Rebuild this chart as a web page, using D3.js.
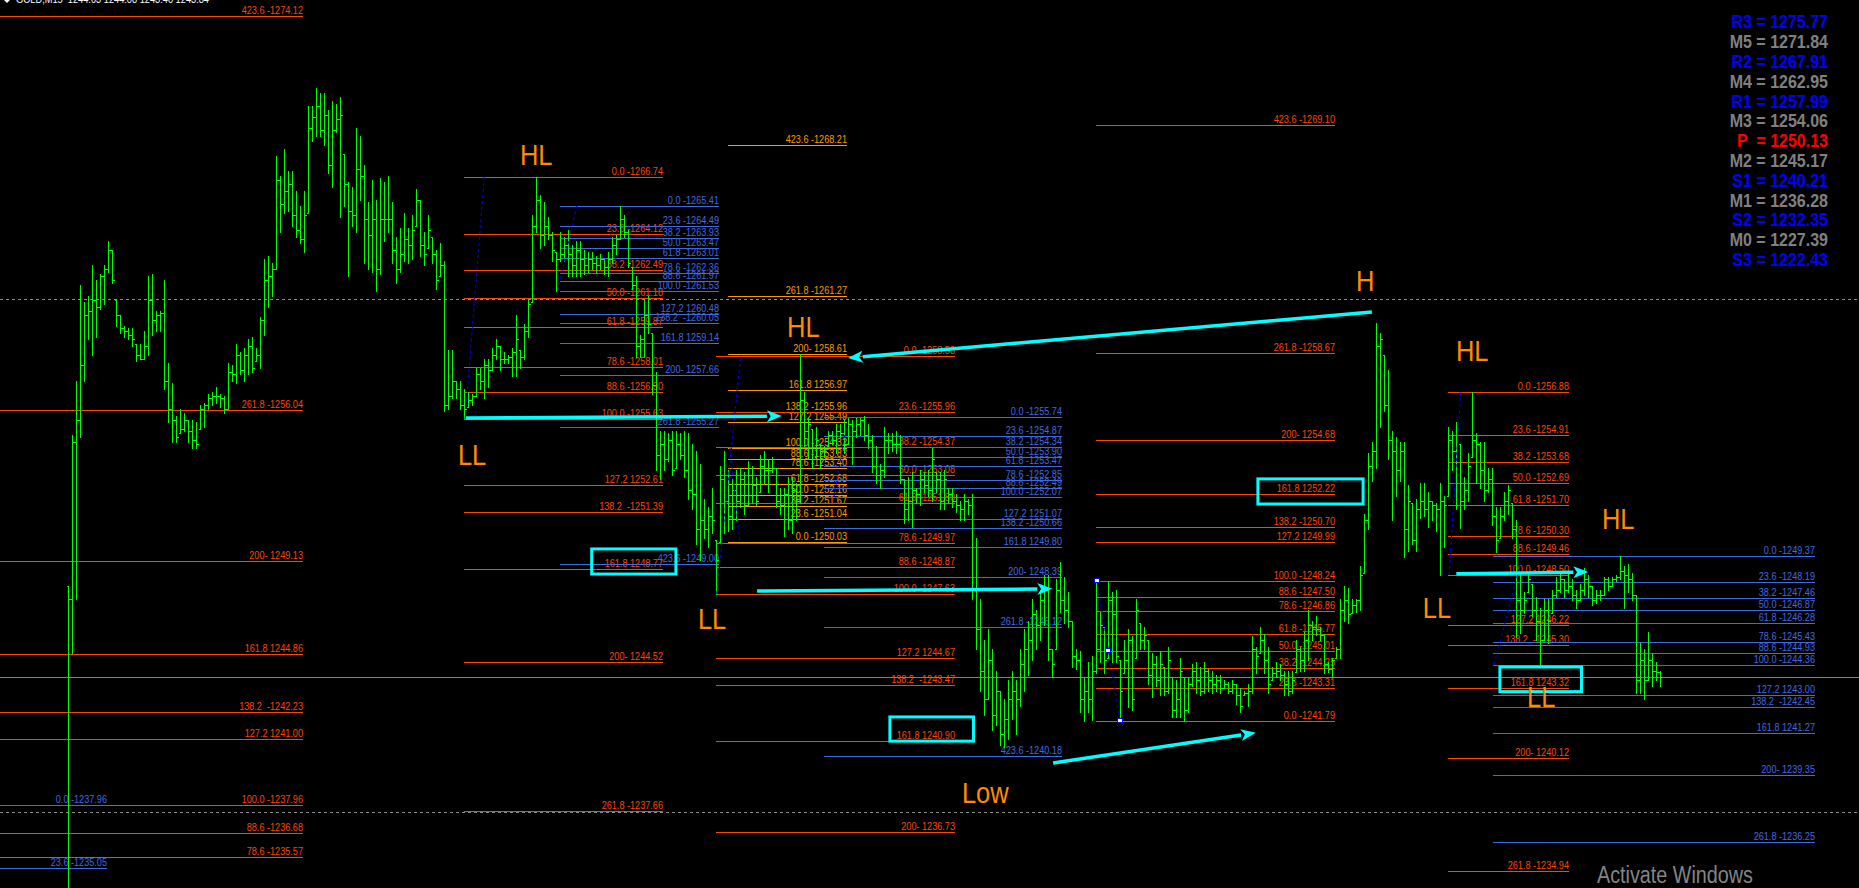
<!DOCTYPE html>
<html>
<head>
<meta charset="utf-8">
<title>GOLD,M15</title>
<script src="https://cdn.jsdelivr.net/npm/d3@7/dist/d3.min.js"></script>
<style>
html,body{margin:0;padding:0;background:#000;overflow:hidden;}
svg{display:block;}
text{white-space:pre;font-family:"Liberation Sans",Arial,sans-serif;}
</style>
</head>
<body>
<svg id="chart" width="1859" height="888"></svg>
<script>
// ---------------- data ----------------
const symbol = "GOLD,M15";
const lastOHLC = [1244.03, 1244.08, 1243.40, 1243.84];

// 15-minute OHLC bars (each bar opens at the prior close)
const barHigh = [
1248.0,1254.9,1257.4,1261.8,1261.0,1261.3,1262.7,1262.0,1262.3,1262.7,
1263.8,1263.4,1261.1,1260.4,1259.9,1259.8,1259.8,1259.1,1259.1,1259.7,
1262.2,1262.3,1260.6,1260.6,1262.0,1258.2,1257.3,1255.8,1256.1,1255.9,
1255.6,1255.6,1255.5,1256.3,1256.4,1256.8,1256.9,1257.1,1256.8,1256.7,
1258.2,1258.1,1259.1,1258.7,1258.9,1259.3,1259.4,1258.9,1260.3,1263.0,
1263.1,1262.8,1267.7,1266.8,1268.0,1267.0,1267.0,1266.1,1265.4,1266.1,
1270.0,1270.0,1270.8,1270.6,1270.6,1269.8,1270.2,1270.1,1270.4,1267.8,
1266.5,1266.3,1269.0,1268.6,1267.3,1265.6,1266.6,1265.7,1266.7,1266.5,
1266.8,1265.6,1264.0,1264.4,1265.1,1264.4,1265.0,1266.2,1265.7,1264.2,
1265.0,1264.0,1263.4,1263.7,1262.9,1258.8,1258.8,1257.4,1257.4,1257.0,
1256.9,1256.8,1258.0,1258.0,1258.4,1258.4,1258.9,1259.3,1259.0,1258.7,
1258.6,1258.9,1260.4,1258.8,1260.0,1261.1,1265.0,1266.74,1265.9,1265.6,
1264.9,1264.2,1263.3,1264.2,1264.0,1264.3,1263.6,1263.8,1263.8,1263.4,
1263.3,1263.3,1263.1,1263.2,1263.0,1263.3,1264.0,1264.1,1265.4,1265.0,
1264.3,1262.6,1262.2,1259.5,1261.1,1261.3,1259.6,1257.8,1255.1,1255.1,
1255.0,1255.1,1255.1,1255.0,1255.1,1255.0,1254.5,1254.2,1253.6,1252.0,
1251.6,1252.5,1250.1,1253.5,1254.2,1253.3,1252.9,1253.3,1253.4,1253.2,
1253.7,1253.5,1253.0,1254.0,1254.2,1253.8,1253.9,1253.4,1252.5,1252.5,
1253.0,1253.0,1252.7,1258.61,1256.9,1255.7,1255.2,1255.3,1254.5,1254.4,
1255.1,1255.1,1255.4,1255.4,1255.6,1255.7,1255.6,1255.7,1255.7,1255.8,
1255.4,1254.9,1254.4,1253.6,1255.3,1255.0,1255.0,1255.1,1254.9,1252.9,
1253.0,1253.2,1252.5,1253.3,1253.2,1253.3,1254.3,1253.2,1253.2,1253.3,
1252.5,1252.5,1252.2,1251.9,1252.2,1252.0,1252.2,1250.2,1247.4,1245.5,
1246.0,1245.1,1244.1,1243.2,1242.8,1243.7,1244.1,1243.7,1245.1,1246.0,
1246.4,1247.4,1246.9,1247.8,1248.5,1248.5,1245.1,1248.3,1249.1,1248.4,
1247.7,1246.4,1245.1,1245.0,1243.8,1244.5,1244.8,1248.24,1246.8,1246.1,
1248.2,1247.7,1247.8,1244.6,1245.5,1246.0,1245.7,1247.4,1246.3,1246.1,
1245.5,1244.9,1244.8,1245.0,1244.3,1245.2,1243.8,1243.7,1244.7,1243.8,
1243.8,1244.4,1244.5,1244.3,1244.5,1244.2,1244.1,1243.9,1243.9,1243.7,
1243.6,1243.7,1243.5,1243.3,1243.2,1243.5,1245.7,1245.2,1246.1,1245.8,
1245.2,1244.3,1244.5,1244.4,1244.1,1244.1,1244.1,1245.5,1245.2,1245.9,
1246.9,1246.4,1246.6,1246.1,1245.8,1244.5,1244.7,1245.2,1247.4,1248.0,
1247.9,1247.4,1247.4,1248.9,1251.3,1254.1,1254.6,1260.05,1259.6,1258.6,
1257.9,1255.1,1254.8,1254.6,1254.6,1252.6,1251.8,1252.0,1252.7,1252.7,
1252.3,1251.9,1251.8,1252.7,1252.1,1255.3,1255.1,1255.5,1254.5,1253.0,
1254.1,1256.88,1255.0,1254.6,1254.6,1253.4,1253.4,1251.6,1251.6,1252.3,
1252.6,1251.8,1251.0,1248.6,1247.7,1248.6,1248.1,1247.5,1247.0,1247.4,
1247.4,1247.8,1248.4,1248.6,1248.3,1248.6,1248.3,1247.8,1248.1,1248.8,
1248.5,1248.0,1247.8,1247.8,1248.4,1248.4,1248.4,1248.5,1249.37,1248.9,
1249.0,1248.6,1247.6,1245.4,1245.1,1245.9,1244.9,1244.5,1244.08];

const barLow = [
1233.5,1244.9,1247.4,1254.8,1257.4,1259.3,1258.6,1259.4,1260.7,1260.9,
1262.4,1261.9,1259.9,1259.6,1259.4,1259.3,1259.0,1258.3,1258.4,1258.4,
1258.6,1259.5,1259.7,1259.7,1257.0,1255.5,1254.6,1254.6,1255.0,1255.1,
1254.6,1254.3,1254.3,1255.2,1255.3,1256.1,1256.3,1256.4,1256.2,1255.9,
1256.1,1257.4,1257.3,1257.7,1257.4,1257.7,1257.8,1258.3,1258.0,1259.5,
1260.8,1261.3,1262.5,1264.2,1265.1,1265.2,1264.5,1264.0,1263.7,1263.3,
1265.1,1268.4,1268.6,1268.6,1268.2,1266.9,1266.3,1268.8,1264.9,1265.4,
1262.2,1264.5,1264.2,1265.7,1262.8,1262.5,1262.4,1261.5,1262.3,1263.8,
1264.2,1262.8,1261.9,1262.4,1262.9,1262.8,1263.0,1264.5,1263.1,1262.7,
1263.5,1262.8,1261.6,1262.2,1256.0,1256.1,1256.6,1256.6,1256.1,1255.63,
1256.2,1256.3,1256.7,1257.0,1256.6,1257.1,1257.9,1258.4,1257.9,1258.2,
1258.2,1257.6,1257.6,1258.0,1258.4,1259.4,1261.0,1264.2,1263.5,1263.6,
1263.9,1262.9,1261.53,1262.9,1262.9,1262.2,1262.2,1262.2,1262.2,1262.3,
1262.4,1262.5,1262.4,1262.5,1262.3,1262.2,1262.8,1263.2,1263.9,1264.0,
1262.6,1261.6,1258.5,1258.5,1258.5,1259.6,1256.8,1253.3,1252.9,1253.3,
1253.7,1253.1,1253.4,1253.8,1253.0,1252.0,1251.5,1249.9,1249.2,1250.2,
1249.8,1250.4,1247.63,1250.0,1250.4,1250.5,1250.6,1251.0,1251.6,1251.3,
1251.7,1251.8,1251.7,1252.3,1252.7,1252.3,1253.2,1251.6,1251.3,1250.3,
1250.6,1250.4,1251.0,1251.8,1254.4,1253.8,1253.4,1253.9,1253.4,1253.9,
1254.4,1254.5,1254.1,1254.8,1254.1,1254.5,1253.6,1254.8,1254.9,1254.7,
1254.3,1253.2,1252.7,1252.5,1253.0,1254.1,1254.2,1254.1,1252.7,1250.9,
1251.0,1250.7,1251.8,1251.7,1252.3,1252.1,1251.9,1252.3,1251.5,1251.5,
1251.8,1251.6,1251.4,1251.0,1251.0,1251.3,1247.4,1245.1,1243.2,1242.1,
1242.8,1241.4,1241.6,1240.7,1240.6,1241.0,1241.9,1241.2,1242.5,1243.2,
1243.9,1244.6,1245.1,1245.5,1246.2,1244.6,1243.8,1245.1,1246.8,1246.3,
1246.1,1244.3,1244.2,1242.2,1241.8,1242.2,1241.85,1244.0,1244.5,1244.0,
1244.7,1244.5,1244.5,1241.79,1244.0,1242.45,1242.3,1244.7,1245.1,1245.1,
1243.5,1242.9,1243.4,1243.0,1243.0,1243.1,1242.0,1242.0,1242.0,1241.8,
1242.2,1243.4,1243.1,1243.0,1243.1,1243.2,1243.1,1243.2,1243.1,1243.3,
1243.1,1243.1,1242.6,1242.2,1243.0,1242.5,1243.1,1244.0,1244.9,1244.0,
1243.1,1243.7,1243.8,1243.7,1243.0,1243.0,1243.1,1244.05,1244.1,1244.1,
1244.6,1245.5,1245.75,1245.5,1244.0,1244.05,1243.8,1244.7,1244.7,1246.4,
1246.3,1246.75,1246.8,1246.9,1248.6,1250.6,1252.8,1253.4,1255.3,1256.0,
1253.8,1251.0,1252.1,1252.8,1249.3,1249.6,1249.9,1249.6,1251.1,1251.2,
1250.7,1251.0,1250.5,1248.5,1249.8,1252.1,1253.3,1251.5,1250.65,1251.5,
1251.9,1253.9,1252.7,1252.5,1251.9,1252.3,1250.8,1249.55,1250.2,1251.0,
1251.3,1250.2,1245.65,1245.85,1246.75,1247.7,1246.6,1245.5,1244.36,1245.5,
1245.4,1246.75,1247.5,1247.7,1247.5,1247.7,1247.35,1247.0,1247.35,1247.6,
1247.5,1247.1,1247.2,1247.35,1247.6,1247.8,1248.0,1248.2,1248.3,1247.0,
1247.7,1247.35,1243.1,1243.1,1242.8,1243.7,1243.4,1243.7,1243.40];

const barClose = [
1247.4,1254.6,1255.6,1258.1,1260.4,1260.6,1261.1,1260.8,1262.2,1262.5,
1263.4,1262.0,1260.4,1259.8,1259.7,1259.5,1259.3,1258.6,1258.4,1259.0,
1261.1,1260.2,1260.4,1260.5,1257.4,1256.1,1255.6,1254.8,1255.2,1255.6,
1255.1,1254.7,1254.5,1256.1,1256.3,1256.6,1256.7,1256.7,1256.6,1256.1,
1257.8,1257.7,1258.6,1257.9,1258.6,1259.0,1258.0,1258.6,1260.2,1262.0,
1262.2,1262.5,1266.6,1265.5,1266.1,1266.4,1265.0,1264.3,1263.9,1265.0,
1269.0,1269.5,1270.0,1268.9,1269.6,1267.3,1268.9,1269.4,1269.6,1266.4,
1265.2,1265.0,1267.1,1266.8,1264.8,1264.1,1264.8,1262.5,1264.8,1264.8,
1264.8,1263.4,1262.5,1263.2,1263.9,1263.6,1264.3,1265.7,1263.6,1263.2,
1264.3,1263.2,1262.0,1262.7,1256.3,1256.7,1257.4,1257.0,1256.3,1256.1,
1256.5,1256.7,1257.7,1257.4,1258.1,1257.9,1258.6,1259.0,1258.4,1258.4,
1258.5,1258.7,1259.3,1258.5,1259.7,1260.9,1264.5,1265.7,1264.1,1264.5,
1264.1,1263.4,1263.0,1263.2,1263.6,1263.2,1262.7,1263.4,1263.0,1262.7,
1263.0,1262.8,1262.7,1263.0,1262.6,1263.0,1263.6,1263.9,1264.8,1264.2,
1262.8,1261.8,1259.0,1259.3,1260.4,1260.0,1257.2,1254.0,1254.5,1253.8,
1254.7,1253.3,1254.5,1254.0,1253.3,1252.4,1252.2,1250.6,1251.0,1250.6,
1251.2,1251.0,1249.2,1252.9,1251.9,1251.2,1252.4,1251.9,1252.9,1251.7,
1253.1,1252.6,1251.9,1253.5,1253.3,1253.3,1253.4,1251.9,1251.7,1252.2,
1251.0,1252.4,1251.9,1256.5,1255.1,1255.4,1253.8,1254.7,1254.2,1254.2,
1254.9,1254.7,1255.1,1255.0,1254.5,1255.4,1255.1,1255.4,1255.6,1254.9,
1254.7,1253.5,1253.1,1253.3,1254.7,1254.7,1254.5,1254.5,1252.9,1251.5,
1251.9,1252.4,1252.2,1252.9,1252.6,1252.4,1253.8,1252.9,1251.9,1252.9,
1252.2,1251.9,1251.7,1251.5,1251.9,1251.7,1247.8,1246.0,1244.1,1242.8,
1244.6,1242.1,1243.2,1241.2,1241.9,1242.8,1243.2,1242.8,1244.4,1245.1,
1245.5,1246.7,1246.2,1247.35,1247.8,1245.1,1244.4,1247.8,1247.35,1246.9,
1246.4,1244.8,1244.6,1242.8,1243.2,1242.8,1244.1,1245.1,1246.2,1244.6,
1247.35,1246.7,1244.8,1243.2,1244.6,1245.5,1242.8,1246.9,1245.5,1245.75,
1243.9,1244.4,1243.7,1244.4,1243.2,1244.6,1242.3,1242.8,1244.1,1242.3,
1243.5,1244.1,1243.7,1243.2,1244.1,1243.7,1243.5,1243.7,1243.3,1243.5,
1243.2,1243.5,1243.0,1242.5,1243.1,1243.2,1245.1,1244.8,1245.5,1244.6,
1243.5,1244.0,1244.1,1243.9,1243.5,1243.2,1243.7,1245.1,1244.6,1245.5,
1246.2,1246.1,1246.0,1245.75,1244.4,1244.2,1244.6,1245.1,1246.9,1247.35,
1246.7,1247.1,1247.35,1248.5,1251.0,1253.5,1254.2,1259.0,1259.3,1256.3,
1254.7,1254.2,1253.3,1254.2,1250.6,1251.9,1250.1,1251.5,1251.9,1251.5,
1251.9,1251.7,1251.5,1251.9,1251.7,1254.7,1254.2,1254.9,1251.9,1252.4,
1253.5,1254.7,1254.5,1253.3,1252.4,1252.9,1251.2,1250.1,1251.2,1251.9,
1252.4,1250.6,1247.35,1246.9,1247.35,1248.3,1246.9,1246.4,1245.5,1246.9,
1246.4,1247.6,1247.8,1248.3,1247.8,1248.0,1247.6,1247.35,1247.8,1248.3,
1248.0,1247.35,1247.6,1247.6,1248.3,1248.0,1248.3,1248.4,1248.7,1248.5,
1248.3,1247.6,1243.7,1244.6,1243.7,1244.6,1244.1,1244.03,1243.84];

// Fibonacci objects: level labels (the price drawn is the one in the label)
const fibA = ["423.6 -1274.12","261.8 -1256.04","200- 1249.13","161.8 1244.86","138.2  -1242.23","127.2 1241.00","100.0 -1237.96","88.6 -1236.68","78.6 -1235.57"];
const fibB = ["0.0 -1237.96","23.6 -1235.05"];
const fibC = ["0.0 -1266.74","23.6 -1264.12","38.2 -1262.49","50.0 -1261.18","61.8 -1259.87","78.6 -1258.01","88.6 -1256.90","100.0 -1255.63","127.2 1252.61","138.2  -1251.39","161.8 1248.77","200- 1244.52","261.8 -1237.66"];
const fibD = ["0.0 -1265.41","23.6 -1264.49","38.2 -1263.93","50.0 -1263.47","61.8 -1263.01","78.6 -1262.36","88.6 -1261.97","100.0 -1261.53","127.2 1260.48","138.2  -1260.05","161.8 1259.14","200- 1257.66","261.8 -1255.27","423.6 -1249.00"];
const fibE = ["423.6 -1268.21","261.8 -1261.27","200- 1258.61","161.8 1256.97","138.2 -1255.96","127.2 1255.49","100.0 -1254.32","88.6 -1253.83","78.6 -1253.40","61.8 -1252.68","50.0 -1252.16","38.2 -1251.67","23.6 -1251.04","0.0 -1250.03"];
const fibF = ["0.0 -1258.53","23.6 -1255.96","38.2 -1254.37","50.0 -1253.08","61.8 -1251.80","78.6 -1249.97","88.6 -1248.87","100.0 -1247.63","127.2 1244.67","138.2  -1243.47","161.8 1240.90","200- 1236.73"];
const fibG = ["0.0 -1255.74","23.6 -1254.87","38.2 -1254.34","50.0 -1253.90","61.8 -1253.47","78.6 -1252.85","88.6 -1252.49","100.0 -1252.07","127.2 1251.07","138.2 -1250.66","161.8 1249.80","200- 1248.39","261.8 -1246.12","423.6 -1240.18"];
const fibH = ["423.6 -1269.10","261.8 -1258.67","200- 1254.68","161.8 1252.22","138.2 -1250.70","127.2 1249.99","100.0 -1248.24","88.6 -1247.50","78.6 -1246.86","61.8 -1245.77","50.0 -1245.01","38.2 -1244.25","23.6 -1243.31","0.0 -1241.79"];
const fibI = ["0.0 -1256.88","23.6 -1254.91","38.2 -1253.68","50.0 -1252.69","61.8 -1251.70","78.6 -1250.30","88.6 -1249.46","100.0 -1248.50","127.2 1246.22","138.2  -1245.30","161.8 1243.32","200- 1240.12","261.8 -1234.94"];
const fibJ = ["0.0 -1249.37","23.6 -1248.19","38.2 -1247.46","50.0 -1246.87","61.8 -1246.28","78.6 -1245.43","88.6 -1244.93","100.0 -1244.36","127.2 1243.00","138.2  -1242.45","161.8 1241.27","200- 1239.35","261.8 -1236.25"];

// time span of each fib object, in bar numbers
const fibSpans = [[-17.1,58.7],[-17.1,9.7],[98.9,148.7],[122.9,162.6],[165.0,194.6],[161.9,221.7],[188.9,248.4],[256.9,316.7],[345.0,375.05],[356.1,436.6]];

// fib anchor trend lines: [bar, price, bar, price]
const fibAnchors = [[99.2,1255.63,104.0,1266.74],[122.4,1261.53,127.1,1265.41],[165.4,1254.32,167.9,1250.03],[162.1,1247.63,168.1,1258.53],[191.4,1252.07,194.9,1255.74],[257.1,1248.24,263.0,1241.79],[345.2,1248.50,348.1,1256.88],[356.45,1244.36,363.5,1249.37]];
const anchorPoints = [[257.1,1248.24],[260.0,1245.01],[263.0,1241.79]];

// swing labels
const swingText = ["HL","LL","HL","LL","Low","H","HL","LL","HL","LL"];
const swingAt = [[112.9,1267.29],[97.4,1253.54],[179.7,1259.39],[157.4,1246.02],[223.4,1238.05],[321.9,1261.53],[346.9,1258.31],[338.6,1246.53],[383.4,1250.61],[364.7,1242.46]];

// arrows: [fromBar, fromPrice, toBar, toPrice]
const arrows = [[99.4,1255.69,178.4,1255.78],[325.9,1260.55,194.9,1258.44],[172.2,1247.76,246.0,1247.86],[246.2,1239.88,296.9,1241.26],[347.0,1248.55,380.0,1248.63]];
// highlight rectangles: [bar0, bar1, priceTop, priceBottom]
const boxes = [[130.85,151.9,1249.69,1248.54],[205.4,226.3,1241.99,1240.88],[297.4,323.7,1252.90,1251.75],[357.9,378.3,1244.28,1243.15]];

// daily pivots
const pivotNames = ["R3","M5","R2","M4","R1","M3","P ","M2","S1","M1","S2","M0","S3"];
const pivotValues = [1275.77,1271.84,1267.91,1262.95,1257.99,1254.06,1250.13,1245.17,1240.21,1236.28,1232.35,1227.39,1222.43];

// horizontal reference levels
const dashedLevels = [1261.14, 1237.64];

// ---------------- drawing ----------------
const W = 1859, H = 888;
const RED = "#ff4500", BLUE = "#4169e1", ORANGE = "#ff9900";
const svg = d3.select("#chart");

const y = d3.scaleLinear().domain([1234.15, 1274.85]).range([H, 0]);
const x = d3.scaleLinear().domain([0, barHigh.length - 1]).range([68.3, 1660.3]);
const px = v => Math.round(v) + 0.5;

svg.append("rect").attr("width", W).attr("height", H).attr("fill", "#000");

// reference lines
const gLines = svg.append("g").attr("shape-rendering", "crispEdges");
dashedLevels.forEach(p => {
  gLines.append("line").attr("x1", 0).attr("x2", W).attr("y1", px(y(p))).attr("y2", px(y(p)))
    .attr("stroke", "#8c8c8c").attr("stroke-dasharray", "3,3");
});
gLines.append("line").attr("x1", 0).attr("x2", W)
  .attr("y1", px(y(lastOHLC[3]))).attr("y2", px(y(lastOHLC[3])))
  .attr("stroke", "#808080");

// fibonacci levels
const priceOf = lbl => Math.abs(parseFloat(lbl.trim().split(/\s+/).pop()));
const fibSets = [
  {labels: fibA, color: RED}, {labels: fibB, color: BLUE}, {labels: fibC, color: RED},
  {labels: fibD, color: BLUE}, {labels: fibE, color: ORANGE}, {labels: fibF, color: RED},
  {labels: fibG, color: BLUE}, {labels: fibH, color: RED}, {labels: fibI, color: RED},
  {labels: fibJ, color: BLUE}
];
const gFib = svg.append("g");
fibSets.forEach((s, k) => {
  const x0 = Math.round(x(fibSpans[k][0])), x1 = Math.round(x(fibSpans[k][1]));
  const g = gFib.append("g");
  g.selectAll("line").data(s.labels).join("line")
    .attr("x1", x0).attr("x2", x1)
    .attr("y1", d => px(y(priceOf(d)))).attr("y2", d => px(y(priceOf(d))))
    .attr("stroke", s.color).attr("shape-rendering", "crispEdges");
  g.selectAll("text").data(s.labels).join("text")
    .attr("transform", d => `translate(${x1},${Math.round(y(priceOf(d))) - 2}) scale(0.83,1)`)
    .attr("text-anchor", "end").attr("font-size", 11).attr("fill", s.color)
    .text(d => d);
});

// price bars
const gBars = svg.append("g").attr("stroke", "#00ff00").attr("stroke-width", 1)
  .attr("shape-rendering", "crispEdges");
let path = "";
barHigh.forEach((h, i) => {
  const lo = barLow[i];
  const open = i === 0 ? h : Math.max(lo, Math.min(h, barClose[i - 1]));
  const xx = px(x(i));
  path += `M${xx},${Math.round(y(h))}V${Math.round(y(lo)) + 1}`;
  const yo = px(y(open)), yc = px(y(barClose[i]));
  path += `M${xx - 2},${yo}H${xx}M${xx},${yc}H${xx + 2.5}`;
});
gBars.append("path").attr("d", path).attr("fill", "none");

// anchor trend lines of the fib objects
const gAnch = svg.append("g");
fibAnchors.forEach(a => {
  gAnch.append("line").attr("x1", x(a[0])).attr("y1", y(a[1])).attr("x2", x(a[2])).attr("y2", y(a[3]))
    .attr("stroke", "#0000ff").attr("stroke-width", 1).attr("stroke-dasharray", "3,3");
});
anchorPoints.forEach(a => {
  gAnch.append("rect").attr("x", Math.round(x(a[0])) - 2.5).attr("y", Math.round(y(a[1])) - 2.5)
    .attr("width", 5).attr("height", 4).attr("fill", "#fff").attr("stroke", "#0000ff").attr("stroke-width", 1);
});

// highlight boxes
boxes.forEach(b => {
  svg.append("rect").attr("x", x(b[0])).attr("y", y(b[2]))
    .attr("width", x(b[1]) - x(b[0])).attr("height", y(b[3]) - y(b[2]))
    .attr("fill", "none").attr("stroke", "#00ffff").attr("stroke-width", 3);
});

// arrows
arrows.forEach(a => {
  const X0 = x(a[0]), Y0 = y(a[1]), X1 = x(a[2]), Y1 = y(a[3]);
  const ang = Math.atan2(Y1 - Y0, X1 - X0), L = 15, Hw = 6;
  const bx = X1 - L * Math.cos(ang), by = Y1 - L * Math.sin(ang);
  svg.append("line").attr("x1", X0).attr("y1", Y0).attr("x2", bx).attr("y2", by)
    .attr("stroke", "#00ffff").attr("stroke-width", 3.5);
  const nx = -Math.sin(ang) * Hw, ny = Math.cos(ang) * Hw;
  svg.append("polygon")
    .attr("points", `${X1},${Y1} ${bx + nx},${by + ny} ${bx + L * 0.25 * Math.cos(ang)},${by + L * 0.25 * Math.sin(ang)} ${bx - nx},${by - ny}`)
    .attr("fill", "#00ffff");
});

// swing labels
swingText.forEach((t, i) => {
  svg.append("text")
    .attr("transform", `translate(${x(swingAt[i][0])},${y(swingAt[i][1])}) scale(0.85,1)`)
    .attr("font-size", 30).attr("fill", "#ff8c00").text(t);
});

// pivot panel
const pivotColor = n => n.trim() === "P" ? "#ff0000" : (n[0] === "M" ? "#808080" : "#0000ff");
pivotNames.forEach((n, i) => {
  svg.append("text")
    .attr("transform", `translate(1828,${28.3 + 19.8 * i}) scale(0.89,1)`)
    .attr("text-anchor", "end").attr("font-size", 18).attr("font-weight", "bold")
    .attr("fill", pivotColor(n))
    .text(`${n} = ${pivotValues[i].toFixed(2)}`);
});

// header
svg.append("polygon").attr("points", "4,0 10,0 7,3").attr("fill", "#fff");
svg.append("text").attr("x", 16).attr("y", 3).attr("font-size", 11).attr("fill", "#fff")
  .attr("textLength", 193).attr("lengthAdjust", "spacingAndGlyphs")
  .text(`${symbol}  ${lastOHLC.map(v => v.toFixed(2)).join(" ")}`);

// system watermark
svg.append("text").attr("x", 1597).attr("y", 883).attr("font-size", 23)
  .attr("font-family", "'Open Sans','Noto Sans',sans-serif").attr("fill", "#858585")
  .attr("textLength", 156).attr("lengthAdjust", "spacingAndGlyphs")
  .text("Activate Windows");
</script>
</body>
</html>
